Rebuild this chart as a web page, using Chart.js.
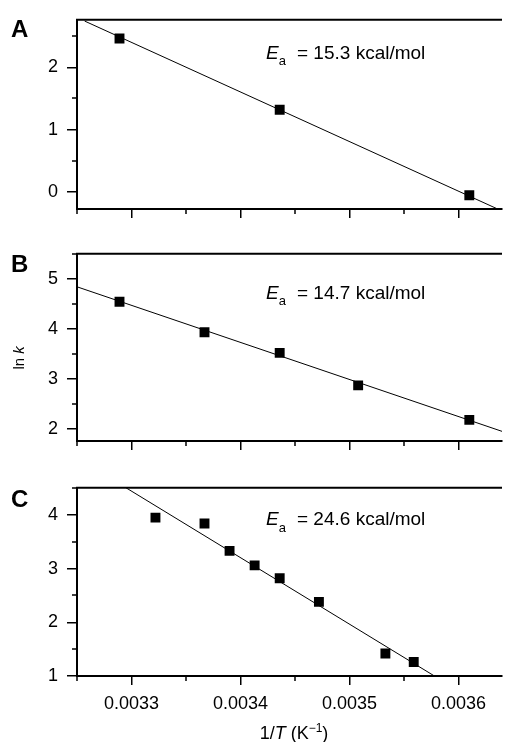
<!DOCTYPE html>
<html>
<head>
<meta charset="utf-8">
<script src="https://cdn.jsdelivr.net/npm/chart.js@4.4.0/dist/chart.umd.min.js"></script>
<style>
  html, body { margin: 0; padding: 0; background: #fff; }
  body { width: 509px; height: 742px; position: relative; overflow: hidden; }
  canvas { position: absolute; left: 0; }
</style>
</head>
<body>
<canvas id="chartA" width="509" height="230" style="top:0px"></canvas>
<canvas id="chartB" width="509" height="228" style="top:234px"></canvas>
<canvas id="chartC" width="509" height="274" style="top:468px"></canvas>
<script>
// data: 1/T (K^-1) vs ln k
const xA = [0.003289, 0.003436, 0.003610];
const yA = [2.46, 1.32, -0.05];
const fitXA = [0.003257, 0.003636];
const fitYA = [2.74, -0.27];

const xB = [0.003289, 0.003367, 0.003436, 0.003508, 0.003610];
const yB = [4.54, 3.93, 3.52, 2.87, 2.18];
const fitXB = [0.00325, 0.00364];
const fitYB = [4.84, 1.95];

const xC = [0.003322, 0.003367, 0.003390, 0.003413, 0.003436, 0.003472, 0.003533, 0.003559];
const yC = [3.95, 3.84, 3.33, 3.06, 2.82, 2.38, 1.42, 1.26];
const fitXC = [0.003295, 0.003578];
const fitYC = [4.505, 1.0];

const eaValues = ['15.3', '14.7', '24.6'];
const panelLetters = ['A', 'B', 'C'];

// tick labels
const xTicksMajor = [0.0033, 0.0034, 0.0035, 0.0036];
const xTicksMinor = [0.00325, 0.00335, 0.00345, 0.00355];
const yTicksA = [0, 1, 2];
const yMinorA = [0.5, 1.5, 2.5];
const yTicksB = [2, 3, 4, 5];
const yMinorB = [2.5, 3.5, 4.5, 5.5];
const yTicksC = [1, 2, 3, 4];
const yMinorC = [1.5, 2.5, 3.5, 4.5];

const fam = '"Liberation Sans", Arial, Helvetica, sans-serif';
Chart.defaults.font.family = fam;
Chart.defaults.color = '#000';

const toPts = (xs, ys) => xs.map((x, i) => ({x: x, y: ys[i]}));

// frame top line, minor ticks and the text bits
const decor = {
  id: 'decor',
  afterDraw(chart, args, o) {
    const ctx = chart.ctx, a = chart.chartArea;
    const sx = chart.scales.x, sy = chart.scales.y;
    ctx.save();
    ctx.strokeStyle = '#000';
    ctx.lineWidth = 2;
    ctx.beginPath();
    ctx.moveTo(a.left - 1, a.top);
    ctx.lineTo(a.right, a.top);
    ctx.stroke();

    ctx.lineWidth = 1.5;
    ctx.beginPath();
    xTicksMinor.forEach(v => {
      const p = Math.round(sx.getPixelForValue(v));
      ctx.moveTo(p, a.bottom);
      ctx.lineTo(p, a.bottom + 5);
    });
    o.minorY.forEach(v => {
      const p = Math.round(sy.getPixelForValue(v));
      ctx.moveTo(a.left, p);
      ctx.lineTo(a.left - 5, p);
    });
    ctx.stroke();

    ctx.fillStyle = '#000';
    ctx.textAlign = 'left';
    ctx.textBaseline = 'alphabetic';
    ctx.font = 'bold 24px ' + fam;
    ctx.fillText(o.letter, 11, a.top + o.letterDy);

    // E_a = ... kcal/mol
    let x = a.left + 189, y = a.top + o.eaDy;
    ctx.font = 'italic 19px ' + fam;
    ctx.fillText('E', x, y);
    x += ctx.measureText('E').width;
    ctx.font = '13px ' + fam;
    ctx.fillText('a', x, y + 6.5);
    ctx.font = '19px ' + fam;
    ctx.fillText('= ' + o.ea + ' kcal/mol', a.left + 220, y);

    if (o.yTitle) {
      ctx.save();
      ctx.translate(24, a.top + 104);
      ctx.rotate(-Math.PI / 2);
      ctx.font = '15px ' + fam;
      const w1 = ctx.measureText('ln ').width;
      ctx.font = 'italic 15px ' + fam;
      const w2 = ctx.measureText('k').width;
      let s = -(w1 + w2) / 2;
      ctx.font = '15px ' + fam;
      ctx.fillText('ln ', s, 0);
      ctx.font = 'italic 15px ' + fam;
      ctx.fillText('k', s + w1, 0);
      ctx.restore();
    }

    if (o.xTitle) {
      const parts = [
        ['1/', '18px', 0], ['T', 'italic 18px', 0], [' (K', '18px', 0],
        ['\u22121', '12px', -7], [')', '18px', 0]
      ];
      let total = 0;
      parts.forEach(p => { ctx.font = p[1] + ' ' + fam; total += ctx.measureText(p[0]).width; });
      let px = 294 - total / 2;
      const by = a.top + 251.5;
      parts.forEach(p => {
        ctx.font = p[1] + ' ' + fam;
        ctx.fillText(p[0], px, by + p[2]);
        px += ctx.measureText(p[0]).width;
      });
    }
    ctx.restore();
  }
};

const makePanel = (id, xs, ys, fx, fy, yMin, yMax, yTicks, yMinor, idx, opts) => {
  const data = {
    datasets: [{
      label: 'data',
      data: toPts(xs, ys),
      pointStyle: 'rect',
      pointRadius: 7,
      pointHoverRadius: 7,
      backgroundColor: '#000',
      borderWidth: 0,
      showLine: false
    }, {
      label: 'fit',
      data: toPts(fx, fy),
      showLine: true,
      borderColor: '#000',
      borderWidth: 1,
      pointRadius: 0,
      fill: false
    }]
  };
  const config = {
    type: 'scatter',
    data,
    options: {
      responsive: false,
      animation: false,
      devicePixelRatio: 1,
      layout: {padding: {top: 15, left: 0, right: 0, bottom: 0}},
      plugins: {
        legend: {display: false},
        tooltip: {enabled: false},
        decor: Object.assign({letter: panelLetters[idx], ea: eaValues[idx], minorY: yMinor}, opts)
      },
      scales: {
        x: {
          type: 'linear',
          min: 0.00325,
          max: 0.00364,
          afterBuildTicks: s => { s.ticks = xTicksMajor.map(v => ({value: v})); },
          afterFit: s => { s.height = opts.xHeight; },
          border: {color: '#000', width: 2},
          grid: {drawOnChartArea: false, color: '#000', tickLength: 9, lineWidth: 1.5},
          ticks: {display: !!opts.xTitle, padding: 8, font: {size: 18}, color: '#000',
                  callback: v => v.toFixed(4)}
        },
        y: {
          type: 'linear',
          min: yMin,
          max: yMax,
          afterBuildTicks: s => { s.ticks = yTicks.map(v => ({value: v})); },
          afterFit: s => { s.width = 77; },
          border: {color: '#000', width: 2},
          grid: {drawOnChartArea: false, color: '#000', tickLength: 10, lineWidth: 1.5},
          ticks: {padding: 9, font: {size: 18}, color: '#000', callback: v => String(v)}
        }
      }
    },
    plugins: [decor]
  };
  return new Chart(id, config);
};

makePanel('chartA', xA, yA, fitXA, fitYA, -0.27, 2.76, yTicksA, yMinorA, 0,
  {letterDy: 17, eaDy: 39, xHeight: 21});
makePanel('chartB', xB, yB, fitXB, fitYB, 1.757, 5.5, yTicksB, yMinorB, 1,
  {letterDy: 18.5, eaDy: 45, xHeight: 21, yTitle: true});
makePanel('chartC', xC, yC, fitXC, fitYC, 1.0, 4.505, yTicksC, yMinorC, 2,
  {letterDy: 19.5, eaDy: 37.5, xHeight: 66, xTitle: true});
</script>
</body>
</html>
